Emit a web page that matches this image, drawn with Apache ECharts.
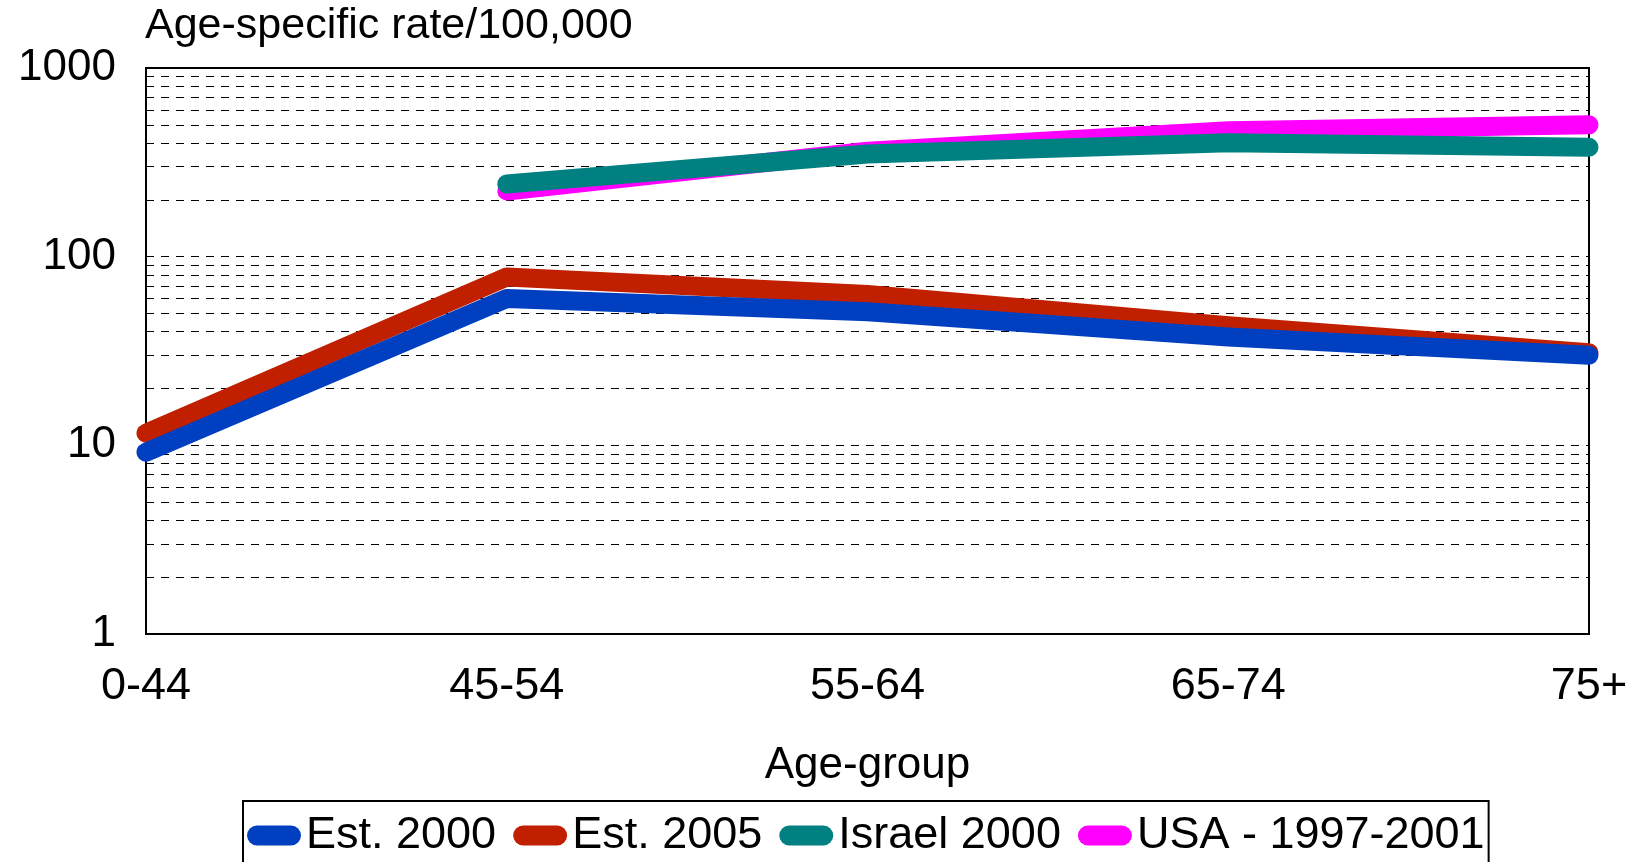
<!DOCTYPE html>
<html>
<head>
<meta charset="utf-8">
<title>Age-specific rate</title>
<script src="https://cdn.jsdelivr.net/npm/echarts@6/dist/echarts.min.js"></script>
<style>
  html, body { margin: 0; padding: 0; background: #ffffff; }
  #chart { width: 1638px; height: 862px; }
</style>
</head>
<body>
<div id="chart"></div>
<script>
// Age groups along the x axis
const categories = ['0-44', '45-54', '55-64', '65-74', '75+'];

// Age-specific rates per 100,000
const est2000 = [9.2, 60, 51, 37.5, 30];
const est2005 = [11.6, 78, 63, 43, 31];
const israel2000 = [null, 243, 350, 402, 380];
const usa19972001 = [null, 223, 362, 465, 500];

// Log-axis labels and dashed reference lines
const yTickLabels = ['1', '10', '100', '1000'];
const gridValues = [2, 3, 4, 5, 6, 7, 8, 9, 10, 20, 30, 40, 50, 60, 70, 80, 90, 100,
                    200, 300, 400, 500, 600, 700, 800, 900];

const FONT = 'Liberation Sans, Arial, sans-serif';
const pill = 'path://M10,0 H44 A10,10 0 0 1 44,20 H10 A10,10 0 0 1 10,0 Z';

const chart = echarts.init(document.getElementById('chart'), null, { renderer: 'canvas' });

function lineSeries(name, data, color, z) {
  return {
    name: name,
    type: 'line',
    data: data,
    z: z,
    showSymbol: false,
    symbol: 'none',
    connectNulls: false,
    animation: false,
    lineStyle: { color: color, width: 19, cap: 'round', join: 'round' },
    itemStyle: { color: color }
  };
}

const option = {
  animation: false,
  backgroundColor: '#ffffff',
  textStyle: { fontFamily: FONT, color: '#000' },
  title: {
    text: 'Age-specific rate/100,000',
    left: 145,
    top: 5,
    padding: 0,
    textStyle: { fontFamily: FONT, fontSize: 43, fontWeight: 'normal', color: '#000' }
  },
  grid: {
    left: 146, right: 49, top: 68, bottom: 228,
    show: true,
    borderColor: '#000',
    borderWidth: 2,
    backgroundColor: 'transparent'
  },
  legend: {
    left: 243,
    top: 801,
    orient: 'horizontal',
    itemWidth: 54,
    itemHeight: 20,
    itemGap: 17,
    padding: [12, 4, 40, 4],
    borderColor: '#000',
    borderWidth: 2,
    textStyle: { fontFamily: FONT, fontSize: 45, color: '#000' },
    data: [
      { name: 'Est. 2000', icon: pill },
      { name: 'Est. 2005', icon: pill },
      { name: 'Israel 2000', icon: pill },
      { name: 'USA - 1997-2001', icon: pill }
    ]
  },
  xAxis: {
    type: 'category',
    data: categories,
    boundaryGap: false,
    name: 'Age-group',
    nameLocation: 'middle',
    nameGap: 110,
    nameTextStyle: { fontFamily: FONT, fontSize: 44, color: '#000' },
    axisLine: { show: true, lineStyle: { color: '#000', width: 2 } },
    axisTick: { show: false },
    axisLabel: { fontFamily: FONT, fontSize: 45, color: '#000', margin: 30 },
    splitLine: { show: false }
  },
  yAxis: {
    type: 'log',
    logBase: 10,
    min: 1,
    max: 1000,
    axisLine: { show: true, lineStyle: { color: '#000', width: 2 } },
    axisTick: { show: false },
    splitLine: { show: false },
    axisLabel: {
      fontFamily: FONT, fontSize: 44, color: '#000', margin: 30,
      formatter: function (v) {
        const s = String(Math.round(v));
        return yTickLabels.indexOf(s) >= 0 ? s : '';
      }
    }
  },
  series: [
    {
      name: 'gridlines',
      type: 'line',
      data: [],
      z: 1,
      silent: true,
      markLine: {
        silent: true,
        symbol: ['none', 'none'],
        animation: false,
        label: { show: false },
        emphasis: { disabled: true },
        lineStyle: { color: '#000', width: 1, type: [8, 7] },
        data: gridValues.map(v => ({ yAxis: v }))
      }
    },
    lineSeries('Est. 2000', est2000, '#0040C0', 6),
    lineSeries('Est. 2005', est2005, '#C02000', 5),
    lineSeries('Israel 2000', israel2000, '#008080', 6),
    lineSeries('USA - 1997-2001', usa19972001, '#FF00FF', 5)
  ]
};

chart.setOption(option);
</script>
</body>
</html>
